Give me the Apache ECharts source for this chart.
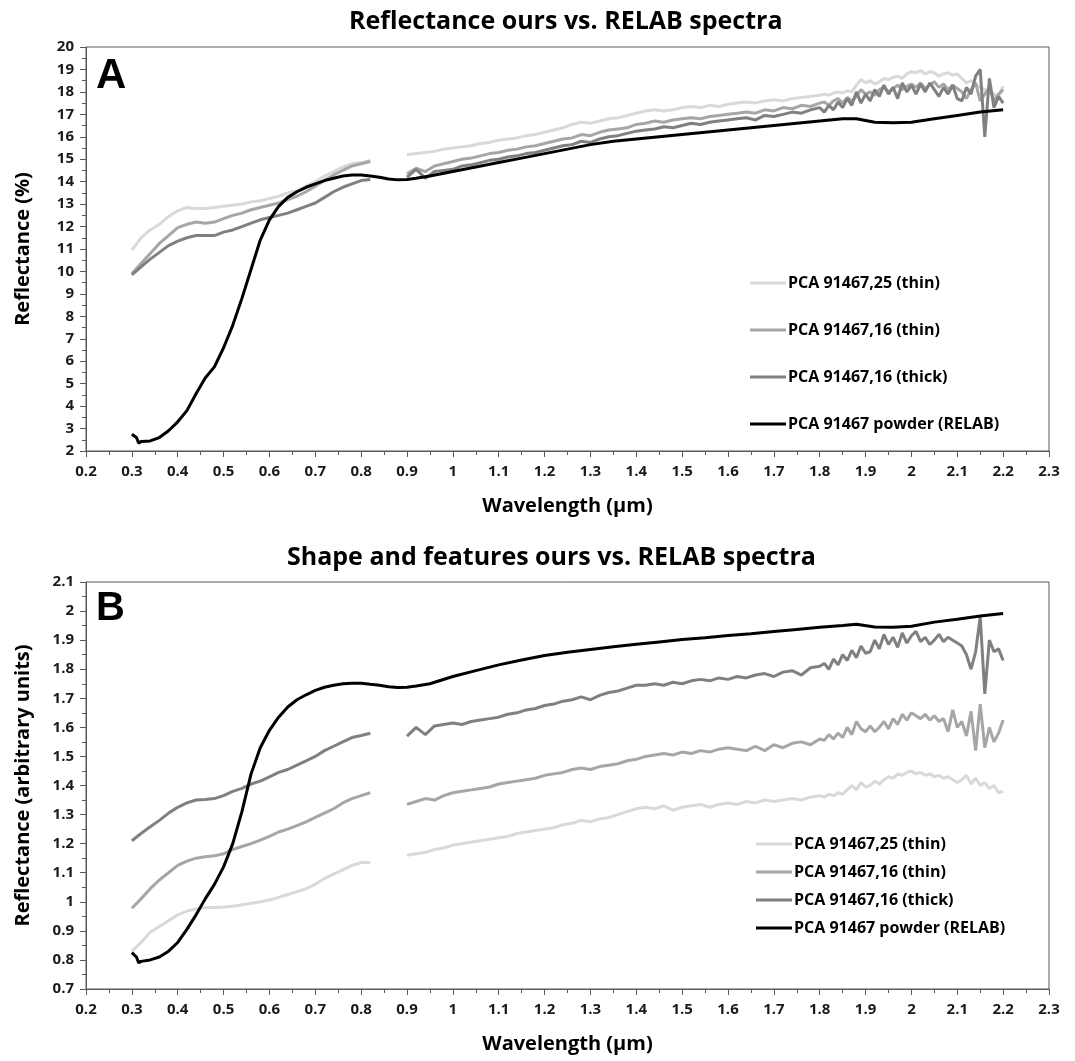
<!DOCTYPE html>
<html>
<head>
<meta charset="utf-8">
<script src="https://cdn.jsdelivr.net/npm/echarts@6/dist/echarts.min.js"></script>
<style>
html,body{margin:0;padding:0;background:#fff;}
#chart{width:1075px;height:1061px;}
</style>
</head>
<body>
<div id="chart"></div>
<script>
// ---------- DATA ----------
const seriesNames = ['PCA 91467,25 (thin)', 'PCA 91467,16 (thin)', 'PCA 91467,16 (thick)', 'PCA 91467 powder (RELAB)'];
const xTicks = [0.2,0.3,0.4,0.5,0.6,0.7,0.8,0.9,1,1.1,1.2,1.3,1.4,1.5,1.6,1.7,1.8,1.9,2,2.1,2.2,2.3];

// wavelength grids (µm)
const wlLeft = [0.30,0.32,0.34,0.36,0.38,0.40,0.42,0.44,0.46,0.48,0.50,0.52,0.54,0.56,0.58,0.60,0.62,0.64,0.66,0.68,0.70,0.72,0.74,0.76,0.78,0.80,0.82];
const wlRight = [0.90,0.92,0.94,0.96,0.98,1.00,
  1.02,1.04,1.06,1.08,1.10,1.12,1.14,1.16,1.18,1.20,
  1.22,1.24,1.26,1.28,1.30,1.32,1.34,1.36,1.38,1.40,
  1.42,1.44,1.46,1.48,1.50,1.52,1.54,1.56,1.58,1.60,
  1.62,1.64,1.66,1.68,1.70,1.72,1.74,1.76,1.78,1.80,
  1.81,1.82,1.83,1.84,1.85,1.86,1.87,1.88,1.89,1.90,
  1.91,1.92,1.93,1.94,1.95,1.96,1.97,1.98,1.99,2.00,
  2.01,2.02,2.03,2.04,2.05,2.06,2.07,2.08,2.09,2.10,
  2.11,2.12,2.13,2.14,2.15,2.16,2.17,2.18,2.19,2.20];
const wlPowder = [0.30,0.31,0.315,0.32,0.34,0.36,0.38,0.40,0.42,0.44,0.46,0.48,0.50,0.52,0.54,0.56,0.58,0.60,0.62,0.64,0.66,0.68,0.70,0.72,0.74,0.76,0.78,0.80,0.82,0.84,0.86,0.88,0.90,0.92,0.95,1.00,1.05,1.10,1.15,1.20,1.25,1.30,1.35,1.40,1.45,1.50,1.55,1.60,1.65,1.70,1.75,1.80,1.85,1.88,1.92,1.96,2.00,2.05,2.10,2.15,2.20];

// ---- Panel A: reflectance (%) ----
const aThin25Left = [10.95,11.5,11.85,12.1,12.45,12.7,12.85,12.8,12.8,12.85,12.9,12.95,13.0,13.1,13.15,13.25,13.35,13.5,13.6,13.8,14.0,14.25,14.45,14.65,14.8,14.85,14.95];
const aThin16Left = [9.9,10.35,10.8,11.25,11.6,11.95,12.1,12.2,12.15,12.2,12.35,12.5,12.6,12.75,12.85,12.95,13.05,13.2,13.35,13.55,13.8,14.05,14.3,14.5,14.7,14.8,14.9];
const aThick16Left = [9.85,10.2,10.55,10.85,11.15,11.35,11.5,11.6,11.6,11.6,11.75,11.85,12.0,12.15,12.3,12.4,12.5,12.6,12.75,12.9,13.05,13.3,13.55,13.75,13.9,14.05,14.1];
const aThin25Right = [15.2,15.25,15.3,15.35,15.45,15.5,
  15.55,15.6,15.7,15.75,15.85,15.9,15.95,16.05,16.1,16.2,
  16.3,16.4,16.55,16.65,16.6,16.7,16.8,16.85,16.95,17.05,
  17.15,17.2,17.15,17.2,17.3,17.35,17.3,17.4,17.35,17.45,
  17.5,17.55,17.5,17.6,17.65,17.6,17.7,17.75,17.8,17.85,
  17.9,17.85,17.95,18.0,17.95,18.05,18.0,18.3,18.55,18.4,
  18.5,18.35,18.45,18.6,18.55,18.65,18.7,18.6,18.8,18.9,
  18.85,18.95,18.8,18.9,18.85,18.7,18.8,18.85,18.75,18.8,
  18.6,18.4,18.5,18.3,18.2,18.1,18.0,17.9,17.8,18.25];
const aThin16Right = [14.35,14.6,14.45,14.7,14.8,14.9,
  15.0,15.05,15.15,15.25,15.3,15.4,15.45,15.55,15.6,15.7,
  15.8,15.9,15.95,16.1,16.05,16.2,16.3,16.35,16.4,16.55,
  16.6,16.7,16.65,16.75,16.8,16.85,16.8,16.9,16.95,17.0,
  17.05,17.1,17.05,17.2,17.15,17.3,17.25,17.4,17.35,17.5,
  17.55,17.4,17.6,17.7,17.5,17.75,17.6,17.8,18.1,17.9,
  18.0,17.85,18.1,18.2,18.0,18.15,18.3,18.1,18.25,18.35,
  18.2,18.4,18.15,18.3,18.45,18.2,18.35,18.1,18.3,18.15,
  18.0,17.7,18.1,18.4,17.6,17.9,18.2,17.6,17.9,18.1];
const aThick16Right = [14.2,14.55,14.15,14.45,14.5,14.55,
  14.7,14.75,14.85,14.95,15.0,15.1,15.15,15.25,15.3,15.4,
  15.5,15.6,15.65,15.8,15.75,15.9,16.0,16.05,16.15,16.25,
  16.3,16.35,16.45,16.4,16.5,16.6,16.55,16.65,16.7,16.75,
  16.8,16.85,16.75,16.95,16.9,17.0,17.1,17.05,17.2,17.3,
  17.1,17.4,17.2,17.55,17.3,17.7,17.4,18.0,17.5,17.9,
  17.6,18.1,17.8,18.3,17.9,18.2,17.7,18.4,18.0,18.3,
  17.9,18.35,18.0,18.4,18.1,17.8,18.2,17.9,18.3,17.7,
  17.6,18.2,17.9,18.7,19.0,16.0,18.6,17.3,17.8,17.5];
const aPowder = [2.75,2.6,2.35,2.42,2.45,2.6,2.9,3.3,3.8,4.55,5.25,5.75,6.6,7.6,8.8,10.1,11.4,12.3,12.9,13.3,13.55,13.75,13.9,14.05,14.15,14.25,14.3,14.3,14.25,14.2,14.12,14.08,14.1,14.15,14.25,14.45,14.65,14.85,15.05,15.25,15.45,15.65,15.8,15.9,16.0,16.1,16.2,16.3,16.4,16.5,16.6,16.7,16.8,16.8,16.65,16.62,16.65,16.8,16.95,17.1,17.2];

// ---- Panel B: reflectance (arbitrary units) ----
const bThin25Left = [0.83,0.86,0.895,0.915,0.935,0.955,0.968,0.975,0.98,0.98,0.982,0.985,0.99,0.995,1.0,1.006,1.015,1.025,1.035,1.045,1.06,1.08,1.095,1.11,1.125,1.135,1.135];
const bThin16Left = [0.978,1.01,1.045,1.075,1.10,1.125,1.14,1.15,1.155,1.158,1.165,1.18,1.19,1.2,1.212,1.225,1.24,1.25,1.262,1.275,1.29,1.305,1.32,1.34,1.355,1.365,1.375];
const bThick16Left = [1.21,1.235,1.258,1.28,1.305,1.325,1.34,1.35,1.352,1.355,1.365,1.38,1.39,1.405,1.415,1.43,1.445,1.455,1.47,1.485,1.5,1.52,1.535,1.55,1.565,1.572,1.58];
const bThin25Right = [1.16,1.165,1.17,1.18,1.185,1.195,
  1.2,1.205,1.21,1.215,1.22,1.225,1.235,1.24,1.245,1.25,
  1.255,1.265,1.27,1.28,1.275,1.285,1.29,1.3,1.31,1.32,
  1.325,1.32,1.33,1.315,1.325,1.33,1.335,1.325,1.335,1.34,
  1.335,1.345,1.34,1.35,1.345,1.35,1.355,1.35,1.36,1.365,
  1.36,1.37,1.365,1.375,1.37,1.385,1.4,1.385,1.41,1.395,
  1.4,1.415,1.405,1.42,1.43,1.425,1.44,1.435,1.445,1.45,
  1.44,1.445,1.435,1.44,1.43,1.435,1.425,1.43,1.42,1.41,
  1.42,1.435,1.405,1.425,1.4,1.41,1.39,1.4,1.375,1.38];
const bThin16Right = [1.335,1.345,1.355,1.35,1.365,1.375,
  1.38,1.385,1.39,1.395,1.405,1.41,1.415,1.42,1.425,1.435,
  1.44,1.445,1.455,1.46,1.455,1.465,1.47,1.475,1.485,1.49,
  1.5,1.505,1.51,1.505,1.515,1.51,1.52,1.515,1.525,1.53,
  1.525,1.52,1.535,1.52,1.54,1.53,1.545,1.55,1.54,1.56,
  1.555,1.575,1.56,1.58,1.565,1.6,1.575,1.62,1.595,1.585,
  1.605,1.585,1.6,1.62,1.595,1.63,1.61,1.645,1.625,1.65,
  1.64,1.63,1.645,1.625,1.64,1.62,1.63,1.585,1.66,1.6,
  1.62,1.57,1.655,1.52,1.68,1.53,1.6,1.55,1.58,1.625];
const bThick16Right = [1.57,1.6,1.575,1.605,1.61,1.615,
  1.61,1.62,1.625,1.63,1.635,1.645,1.65,1.66,1.665,1.675,
  1.68,1.69,1.695,1.705,1.695,1.71,1.72,1.725,1.735,1.745,
  1.745,1.75,1.745,1.755,1.75,1.76,1.765,1.76,1.77,1.765,
  1.775,1.77,1.78,1.785,1.775,1.79,1.795,1.78,1.805,1.81,
  1.82,1.8,1.835,1.815,1.85,1.83,1.865,1.84,1.88,1.855,
  1.86,1.9,1.87,1.92,1.885,1.91,1.875,1.925,1.89,1.915,
  1.93,1.895,1.91,1.885,1.9,1.92,1.895,1.91,1.9,1.89,
  1.88,1.85,1.8,1.86,1.98,1.715,1.9,1.86,1.87,1.83];
const bPowder = [0.825,0.81,0.79,0.795,0.80,0.81,0.83,0.86,0.905,0.955,1.01,1.06,1.12,1.2,1.31,1.44,1.53,1.59,1.635,1.67,1.695,1.712,1.727,1.738,1.745,1.75,1.752,1.752,1.748,1.745,1.74,1.737,1.738,1.742,1.75,1.775,1.795,1.815,1.832,1.847,1.858,1.868,1.877,1.886,1.894,1.902,1.908,1.916,1.922,1.93,1.937,1.944,1.95,1.955,1.945,1.944,1.948,1.962,1.972,1.983,1.992];

// ---------- BUILD ----------
const colors = ['#d9d9d9', '#a6a6a6', '#808080', '#000000'];
const FONT = '"Open Sans", Lato, sans-serif';
function zip(xs, ys) { return xs.map((x, i) => [x, ys[i]]); }
function gapped(left, right) {
  return zip(wlLeft, left).concat([[0.86, '-']], zip(wlRight, right));
}
const GRID_LEFT = 86, GRID_RIGHT = 26;

function makeSeries(gi, sets) {
  return sets.map((d, i) => ({
    name: seriesNames[i], type: 'line', xAxisIndex: gi, yAxisIndex: gi,
    data: d, showSymbol: false, symbol: 'none', connectNulls: false,
    lineStyle: { color: colors[i], width: 3 },
    itemStyle: { color: colors[i] }, z: i === 3 ? 10 : 5 + i, silent: true
  }));
}

const xAxisCommon = {
  type: 'value', min: 0.2, max: 2.3, interval: 0.1,
  axisLine: { show: true, lineStyle: { color: '#595959', width: 1 } },
  axisTick: { show: true, inside: false, length: 6, lineStyle: { color: '#595959' } },
  minorTick: { show: true, splitNumber: 2, length: 4, lineStyle: { color: '#595959' } },
  splitLine: { show: false },
  axisLabel: { color: '#1a1a1a', fontFamily: FONT, fontWeight: 'bold', fontSize: 15, margin: 13,
    formatter: v => String(+v.toFixed(2)), showMinLabel: true, showMaxLabel: true },
  name: 'Wavelength (µm)', nameLocation: 'middle', nameGap: 45,
  nameTextStyle: { color: '#000', fontFamily: FONT, fontWeight: 'bold', fontSize: 20 }
};
function yAxis(min, max, interval, name, gap) {
  return {
    type: 'value', min: min, max: max, interval: interval,
    axisLine: { show: true, lineStyle: { color: '#595959', width: 1 } },
    axisTick: { show: true, length: 6, lineStyle: { color: '#595959' } },
    minorTick: { show: true, splitNumber: 2, length: 4, lineStyle: { color: '#595959' } },
    splitLine: { show: false },
    axisLabel: { color: '#1a1a1a', fontFamily: FONT, fontWeight: 'bold', fontSize: 15, margin: 12,
      formatter: v => String(+v.toFixed(2)) },
    name: name, nameLocation: 'middle', nameGap: gap,
    nameTextStyle: { color: '#000', fontFamily: FONT, fontWeight: 'bold', fontSize: 20 }
  };
}

const chart = echarts.init(document.getElementById('chart'), null, { renderer: 'canvas' });
chart.setOption({
  animation: false,
  backgroundColor: '#ffffff',
  title: [
    { text: 'Reflectance ours vs. RELAB spectra', left: 344, top: 4,
      textStyle: { fontFamily: FONT, fontWeight: 'bold', fontSize: 25, color: '#000' } },
    { text: 'Shape and features ours vs. RELAB spectra', left: 282, top: 540,
      textStyle: { fontFamily: FONT, fontWeight: 'bold', fontSize: 25, color: '#000' } }
  ],
  grid: [
    { left: GRID_LEFT, right: GRID_RIGHT, top: 47, height: 404, show: true, borderColor: '#595959', borderWidth: 1, backgroundColor: 'transparent' },
    { left: GRID_LEFT, right: GRID_RIGHT, top: 582, height: 407, show: true, borderColor: '#595959', borderWidth: 1, backgroundColor: 'transparent' }
  ],
  xAxis: [ Object.assign({ gridIndex: 0 }, xAxisCommon), Object.assign({ gridIndex: 1 }, xAxisCommon) ],
  yAxis: [
    Object.assign({ gridIndex: 0 }, yAxis(2, 20, 1, 'Reflectance (%)', 53)),
    Object.assign({ gridIndex: 1 }, yAxis(0.7, 2.1, 0.1, 'Reflectance (arbitrary units)', 53))
  ],
  legend: [
    { orient: 'vertical', left: 745, top: 270, itemGap: 31, itemWidth: 36, itemHeight: 3, icon: 'rect',
      data: seriesNames, selectedMode: false,
      textStyle: { fontFamily: FONT, fontWeight: 'bold', fontSize: 16, color: '#000', padding: [0,0,0,-3] } },
    { orient: 'vertical', left: 751, top: 831, itemGap: 12, itemWidth: 36, itemHeight: 3, icon: 'rect',
      data: seriesNames, selectedMode: false,
      textStyle: { fontFamily: FONT, fontWeight: 'bold', fontSize: 16, color: '#000', padding: [0,0,0,-3] } }
  ],
  graphic: [
    { type: 'text', left: 96, top: 55, style: { text: 'A', font: 'bold 42px "Liberation Sans", Arial, sans-serif', fill: '#000' } },
    { type: 'text', left: 96, top: 589, style: { text: 'B', font: 'bold 40px "Liberation Sans", Arial, sans-serif', fill: '#000' } }
  ],
  series: [].concat(
    makeSeries(0, [gapped(aThin25Left, aThin25Right), gapped(aThin16Left, aThin16Right), gapped(aThick16Left, aThick16Right), zip(wlPowder, aPowder)]),
    makeSeries(1, [gapped(bThin25Left, bThin25Right), gapped(bThin16Left, bThin16Right), gapped(bThick16Left, bThick16Right), zip(wlPowder, bPowder)])
  )
});
</script>
</body>
</html>
